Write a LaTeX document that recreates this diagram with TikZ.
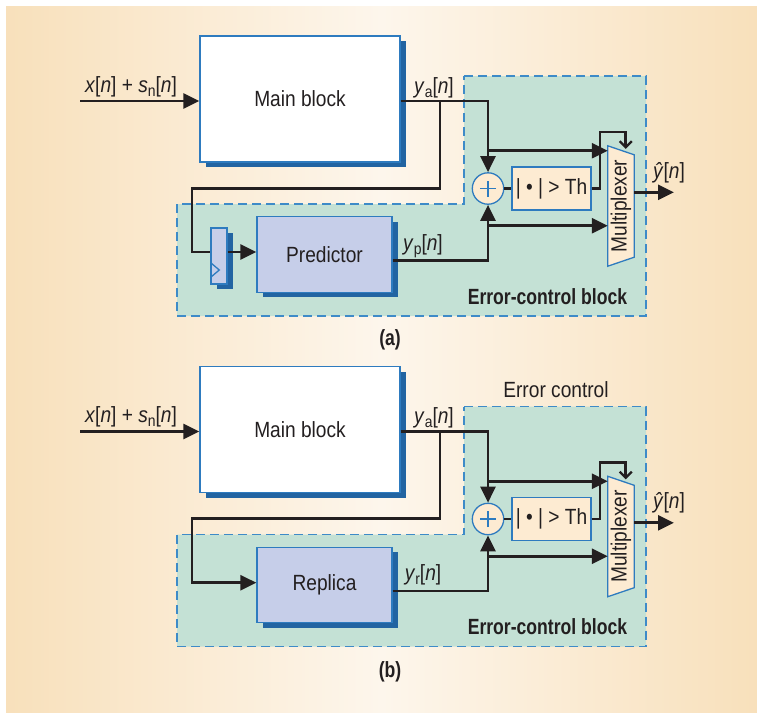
\documentclass[tikz,border=0pt]{standalone}
\usepackage{fontspec}
\setmainfont{Liberation Sans}[FakeStretch=0.87,BoldFeatures={FakeStretch=0.80}]
\usetikzlibrary{arrows.meta,shadows}
\definecolor{bgside}{HTML}{F8E0BB}
\definecolor{bgmid}{HTML}{FDF6EC}
\definecolor{mint}{HTML}{C4E1D5}
\definecolor{lav}{HTML}{C6CEE9}
\definecolor{cream}{HTML}{FDEBD2}
\definecolor{bord}{HTML}{2E7BBF}
\definecolor{shad}{HTML}{2264A2}
\definecolor{dashblue}{HTML}{3E8BC8}
\definecolor{ink}{HTML}{231F20}
\newcommand\sbs[1]{\raisebox{-0.2em}{\fontsize{16}{16}\selectfont #1}}
\tikzset{
  txt/.style={font=\fontsize{22}{26}\selectfont, text=ink},
  btxt/.style={font=\fontsize{22}{26}\selectfont\bfseries, text=ink},
  outl/.style={draw=bord, line width=1.3pt},
  box/.style={outl, inner sep=0pt, txt},
  shbox/.style={box, general shadow={fill=shad, shadow xshift=6pt, shadow yshift=-5pt}},
  wire/.style={draw=ink, line width=2.7pt},
  arr/.style={wire, -{Triangle[length=16pt,width=15pt]}},
  barb/.style={wire, -{Straight Barb[length=6pt,width=12pt,line width=2.3pt]}},
  region/.style={fill=mint, draw=dashblue, line width=1.4pt, dash pattern=on 9pt off 5pt},
}
% #1 prefix, #2 vertical offset, #3 part-specific drawing
\newcommand\errpart[3]{%
\begin{scope}[shift={(0,#2)}]
  \filldraw[region] (464,76) -- (646,76) -- (646,316) -- (177,316) -- (177,204) -- (464,204) -- cycle;
  \node[shbox, fill=white, minimum width=200pt, minimum height=126pt] (#1main) at (300,99) {Main block};
  \node[box, circle, fill=cream, minimum size=31.4pt] (#1add) at (488,188.5) {};
  \draw[outl] ([xshift=-8pt]#1add.center) -- ([xshift=8pt]#1add.center)
              ([yshift=-8pt]#1add.center) -- ([yshift=8pt]#1add.center);
  \node[box, fill=cream, minimum width=79pt, minimum height=43pt] (#1th) at (551.5,188.5) {| • | > Th};
  \node[minimum width=26pt, minimum height=120pt, inner sep=0pt] (#1mux) at (621,206) {};
  \filldraw[outl, fill=cream] (#1mux.north west) -- ([yshift=-9pt]#1mux.north east)
     -- ([yshift=9pt]#1mux.south east) -- (#1mux.south west) -- cycle;
  \node[txt, rotate=90] (#1muxl) at (#1mux.center) {Multiplexer};
  \coordinate (#1in) at (80,101);
  \coordinate (#1br) at (440,101);
  \coordinate (#1lp) at (192,188.3);
  \coordinate (#1j1) at (488,150.7);
  \coordinate (#1j2) at (488,225.7);
  \coordinate (#1fb) at (600,132);
  \coordinate (#1yh) at (674,192.3);
  \draw[arr] (#1in) -- (#1in -| #1main.west);
  \draw[arr] (#1in -| #1main.east) -| (#1add.north);
  \draw[arr] (#1j1) -- (#1j1 -| #1mux.west);
  \draw[arr] (#1j2) -- (#1j2 -| #1mux.west);
  \draw[wire] (#1add.east) -- (#1th.west);
  \draw[barb] (#1th.east) -| (#1fb) -| ([xshift=4.7pt,yshift=-3pt]#1mux.north);
  \draw[arr] (#1mux.east |- #1yh) -- (#1yh);
  \node[txt, anchor=base] (#1xl) at (131,92) {\textit{x}[\textit{n}] + \textit{s}\sbs{n}[\textit{n}]};
  \node[txt, anchor=base] (#1yal) at (434,93) {\textit{y}\sbs{a}[\textit{n}]};
  \node[txt, anchor=base] (#1yhl) at (669,178) {\textit{ŷ}[\textit{n}]};
  \node[btxt, anchor=base] (#1ecb) at (547.5,304) {Error-control block};
  #3
\end{scope}}
\begin{document}
\begin{tikzpicture}[x=1pt,y=-1pt]
\useasboundingbox (0,0) rectangle (757,713);
\shade[left color=bgside, right color=bgside, middle color=bgmid] (6,6) rectangle (757,712);
\errpart{a}{0}{%
  \node[box, fill=lav, minimum width=16pt, minimum height=56pt,
        general shadow={fill=shad, shadow xshift=6pt, shadow yshift=-5pt}] (aff) at (219,256) {};
  \draw[outl] (211,263) -- (219.3,270) -- (211,277);
  \node[shbox, fill=lav, minimum width=135pt, minimum height=75.5pt] (apred) at (324.5,254.5) {Predictor};
  \draw[wire] (abr) |- (alp) |- ([yshift=4pt]aff.west);
  \draw[arr] ([yshift=4pt]aff.east) -- ([yshift=4pt]aff.east -| apred.west);
  \draw[arr] ([yshift=-6pt]apred.east) -| (aadd.south);
  \node[txt, anchor=base] (ayp) at (423,250) {\textit{y}\sbs{p}[\textit{n}]};
  \node[btxt] (acap) at (390,340) {(a)};
}
\errpart{b}{330.5}{%
  \node[shbox, fill=lav, minimum width=135pt, minimum height=75.5pt] (brep) at (324.5,254.5) {Replica};
  \draw[arr] (bbr) |- (blp) |- ([yshift=2.3pt]brep.west);
  \draw[arr] ([yshift=-6pt]brep.east) -| (badd.south);
  \node[txt, anchor=base] (byr) at (423,250) {\textit{y}\sbs{r}[\textit{n}]};
  \node[txt, anchor=base] (bec) at (556,66.5) {Error control};
  \node[btxt] (bcap) at (390,341.2) {(b)};
}
\end{tikzpicture}
\end{document}
